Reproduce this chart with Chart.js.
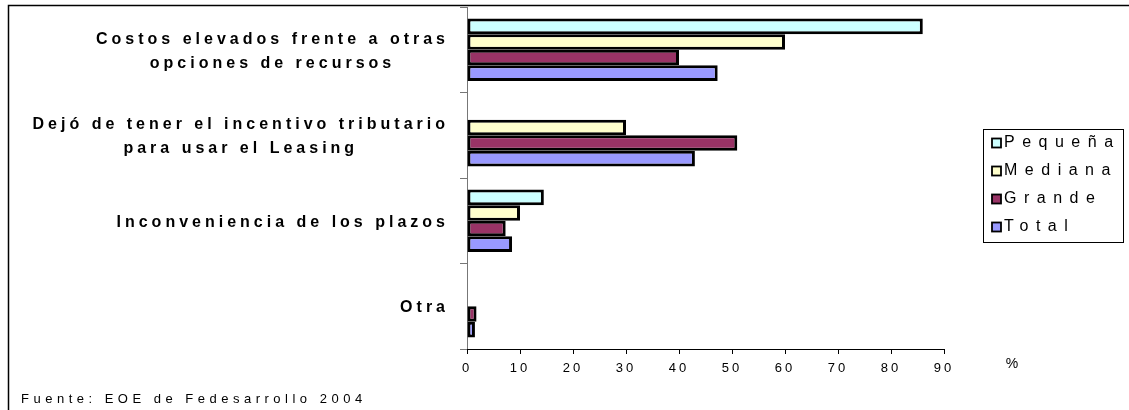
<!DOCTYPE html>
<html>
<head>
<meta charset="utf-8">
<script src="https://cdn.jsdelivr.net/npm/chart.js@4/dist/chart.umd.min.js"></script>
<style>
  html, body { margin: 0; padding: 0; background: #fff; }
  canvas { display: block; }
</style>
</head>
<body>
<canvas id="chart" width="1129" height="410"></canvas>
<script>
// Reasons for not using leasing, by company size (% of firms)
const categories = [
  ['Costos elevados frente a otras', 'opciones de recursos'],
  ['Dejó de tener el incentivo tributario', 'para usar el Leasing'],
  ['Inconveniencia de los plazos'],
  ['Otra']
];
const seriesNames = ['Pequeña', 'Mediana', 'Grande', 'Total'];
const pequena = [86, null, 14.5, null];
const mediana = [60, 30, 10, null];
const grande  = [40, 51, 7.3, 1.8];
const total   = [47.3, 43, 8.5, 1.5];
const xTickValues = [0, 10, 20, 30, 40, 50, 60, 70, 80, 90];
const seriesColors = ['#CCFFFF', '#FFFFCC', '#993366', '#9999FF'];
const unitLabel = '%';
const sourceNote = 'Fuente: EOE de Fedesarrollo 2004';

const FONT = '"Liberation Sans", Arial, Helvetica, sans-serif';
const seriesValues = [pequena, mediana, grande, total];

// Draws text with letter spacing; alignment is computed on the visible glyphs
function spacedText(ctx, text, x, y, spacing, align) {
  ctx.letterSpacing = spacing + 'px';
  const w = ctx.measureText(text).width - spacing;
  const left = align === 'right' ? x - w : align === 'center' ? x - w / 2 : x;
  ctx.textAlign = 'left';
  ctx.fillText(text, left, y);
  return w;
}
function spacedWidth(ctx, text, spacing) {
  ctx.letterSpacing = spacing + 'px';
  return ctx.measureText(text).width - spacing;
}

const decorations = {
  id: 'decorations',
  beforeDraw(chart) {
    // spaced-out digits on the value axis
    chart.ctx.letterSpacing = '3px';
  },
  afterDraw(chart) {
    const ctx = chart.ctx;
    const area = chart.chartArea;
    const yScale = chart.scales.y;
    ctx.save();
    ctx.fillStyle = '#000';
    ctx.textBaseline = 'middle';

    // category labels: each block right-aligned, lines centred inside the block
    ctx.font = 'bold 16px ' + FONT;
    const labelSpacing = 4;
    const labelRight = area.left - 22;
    const lineH = 24;
    categories.forEach((lines, i) => {
      const cy = yScale.getPixelForValue(i) + 1.5;
      const widths = lines.map(l => spacedWidth(ctx, l, labelSpacing));
      const blockW = Math.max(...widths);
      const cx = labelRight - blockW / 2;
      const y0 = cy - (lines.length - 1) * lineH / 2;
      lines.forEach((l, k) => spacedText(ctx, l, cx, y0 + k * lineH, labelSpacing, 'center'));
    });

    // unit label next to the value axis
    ctx.font = '14px ' + FONT;
    spacedText(ctx, unitLabel, 1012, 364, 0, 'center');

    // source note
    ctx.font = '13px ' + FONT;
    spacedText(ctx, sourceNote, 21, 399, 4.5, 'left');

    // legend
    const lg = { x: 983.5, y: 129.5, w: 140, h: 113 };
    ctx.lineWidth = 1;
    ctx.strokeStyle = '#000';
    ctx.strokeRect(lg.x, lg.y, lg.w, lg.h);
    ctx.font = '16px ' + FONT;
    seriesNames.forEach((name, i) => {
      const ey = 143 + i * 28;
      ctx.fillStyle = seriesColors[i];
      ctx.fillRect(992, ey - 4.5, 9, 9);
      ctx.lineWidth = 1.8;
      ctx.strokeStyle = '#000';
      ctx.strokeRect(992, ey - 4.5, 9, 9);
      ctx.fillStyle = '#000';
      spacedText(ctx, name, 1004, ey, 7.5, 'left');
    });

    // outer frame (top and left edges)
    ctx.letterSpacing = '0px';
    ctx.strokeStyle = '#000';
    ctx.lineWidth = 1.5;
    ctx.beginPath();
    ctx.moveTo(8.5, 410);
    ctx.lineTo(8.5, 5.5);
    ctx.lineTo(1129, 5.5);
    ctx.stroke();
    ctx.restore();
    ctx.letterSpacing = '0px';
  }
};

new Chart(document.getElementById('chart'), {
  type: 'bar',
  data: {
    labels: categories,
    datasets: seriesNames.map((name, i) => ({
      label: name,
      data: seriesValues[i],
      backgroundColor: seriesColors[i],
      borderColor: '#000',
      borderWidth: 3,
      borderSkipped: false,
      categoryPercentage: 0.73,
      barPercentage: 1
    }))
  },
  options: {
    indexAxis: 'y',
    responsive: false,
    animation: false,
    devicePixelRatio: 1,
    layout: { padding: { left: 0, top: 7, right: 185, bottom: 0 } },
    plugins: { legend: { display: false }, tooltip: { enabled: false } },
    scales: {
      y: {
        type: 'category',
        ticks: { display: false },
        grid: { drawOnChartArea: false, drawTicks: true, tickLength: 7, color: '#777', offset: true },
        border: { display: true, color: '#777', width: 1 },
        afterFit(scale) { scale.width = 467; }
      },
      x: {
        type: 'linear',
        min: 0,
        max: 90,
        afterBuildTicks(scale) { scale.ticks = xTickValues.map(v => ({ value: v })); },
        ticks: { font: { family: FONT, size: 13 }, color: '#000', padding: 7, maxRotation: 0, autoSkip: false },
        grid: { drawOnChartArea: false, drawTicks: true, tickLength: 5, color: '#000' },
        border: { display: true, color: '#000', width: 1 },
        afterFit(scale) { scale.height = 61; }
      }
    }
  },
  plugins: [decorations]
});
</script>
</body>
</html>
